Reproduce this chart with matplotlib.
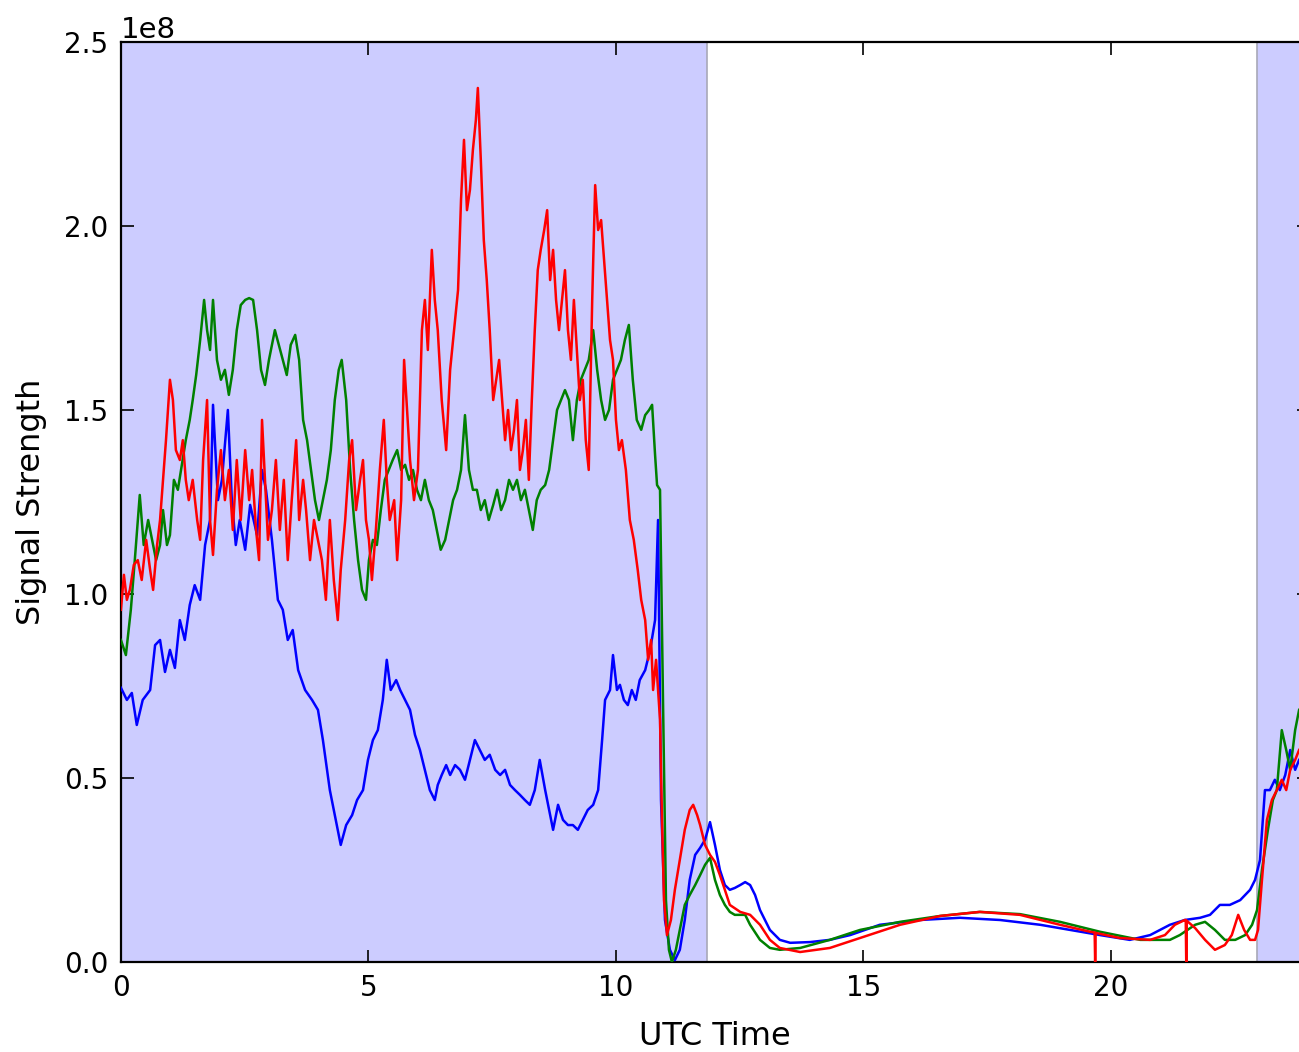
import numpy as np
import matplotlib
matplotlib.use("Agg")
import matplotlib.pyplot as plt

# signal strength traces, values in units of 1e8, time in UTC hours
blue_hours = [0.00, 0.12, 0.22, 0.32, 0.44, 0.59, 0.69, 0.79, 0.89, 0.99, 1.09, 1.19, 1.29, 1.39, 1.49, 1.60,
              1.70, 1.80, 1.86, 1.96, 2.04, 2.16, 2.24, 2.32, 2.40, 2.51, 2.61, 2.75, 2.85, 2.93, 3.05, 3.17,
              3.27, 3.37, 3.47, 3.58, 3.72, 3.86, 3.98, 4.08, 4.22, 4.34, 4.44, 4.55, 4.67, 4.77, 4.89, 4.99,
              5.09, 5.19, 5.29, 5.37, 5.45, 5.56, 5.64, 5.74, 5.84, 5.94, 6.04, 6.14, 6.24, 6.34, 6.40, 6.48,
              6.57, 6.65, 6.75, 6.85, 6.95, 7.05, 7.15, 7.25, 7.35, 7.45, 7.56, 7.66, 7.76, 7.86, 7.96, 8.06,
              8.16, 8.26, 8.36, 8.46, 8.57, 8.65, 8.73, 8.83, 8.93, 9.03, 9.13, 9.23, 9.33, 9.43, 9.54, 9.64,
              9.72, 9.78, 9.88, 9.94, 10.02, 10.08, 10.16, 10.24, 10.32, 10.40, 10.48, 10.59, 10.69, 10.79,
              10.85, 10.91, 10.99, 11.09, 11.19, 11.29, 11.39, 11.49, 11.60, 11.70, 11.80, 11.90, 12.00, 12.10,
              12.20, 12.30, 12.40, 12.51, 12.61, 12.71, 12.81, 12.91, 13.11, 13.31, 13.52, 13.92, 14.32, 14.73,
              15.33, 16.14, 16.95, 17.76, 18.57, 19.17, 19.78, 20.38, 20.79, 21.19, 21.49, 21.80, 22.00, 22.20,
              22.40, 22.61, 22.81, 22.91, 23.01, 23.11, 23.21, 23.31, 23.41, 23.52, 23.62, 23.72, 23.80]
blue_vals = [0.745, 0.712, 0.731, 0.644, 0.712, 0.739, 0.861, 0.875, 0.788, 0.848, 0.799, 0.929, 0.875, 0.970,
             1.024, 0.984, 1.133, 1.201, 1.514, 1.255, 1.310, 1.500, 1.255, 1.133, 1.201, 1.120, 1.242, 1.160,
             1.337, 1.283, 1.147, 0.984, 0.957, 0.875, 0.902, 0.793, 0.739, 0.712, 0.685, 0.603, 0.467, 0.386,
             0.318, 0.372, 0.399, 0.440, 0.467, 0.549, 0.603, 0.630, 0.712, 0.821, 0.739, 0.766, 0.739, 0.712,
             0.685, 0.617, 0.576, 0.522, 0.467, 0.440, 0.481, 0.508, 0.535, 0.508, 0.535, 0.522, 0.495, 0.549,
             0.603, 0.576, 0.549, 0.563, 0.522, 0.508, 0.522, 0.481, 0.467, 0.454, 0.440, 0.427, 0.467, 0.549,
             0.467, 0.413, 0.359, 0.427, 0.386, 0.372, 0.372, 0.359, 0.386, 0.413, 0.427, 0.467, 0.603, 0.712,
             0.739, 0.834, 0.739, 0.753, 0.712, 0.698, 0.739, 0.712, 0.766, 0.793, 0.848, 0.929, 1.201, 0.440,
             0.114, 0.033, 0.005, 0.033, 0.114, 0.223, 0.291, 0.310, 0.332, 0.380, 0.318, 0.250, 0.209, 0.196,
             0.201, 0.209, 0.217, 0.209, 0.182, 0.141, 0.087, 0.060, 0.052, 0.054, 0.060, 0.073, 0.101, 0.114,
             0.120, 0.114, 0.101, 0.087, 0.073, 0.060, 0.073, 0.101, 0.114, 0.120, 0.128, 0.155, 0.155, 0.168,
             0.196, 0.223, 0.277, 0.467, 0.467, 0.495, 0.467, 0.508, 0.576, 0.522, 0.549]

green_hours = [0.00, 0.10, 0.20, 0.28, 0.38, 0.46, 0.55, 0.63, 0.71, 0.79, 0.85, 0.93, 0.99, 1.07, 1.15, 1.23,
               1.31, 1.39, 1.45, 1.52, 1.60, 1.68, 1.74, 1.80, 1.86, 1.94, 2.02, 2.10, 2.18, 2.26, 2.34, 2.42,
               2.51, 2.59, 2.67, 2.75, 2.83, 2.91, 2.99, 3.05, 3.11, 3.19, 3.27, 3.35, 3.43, 3.52, 3.60, 3.68,
               3.76, 3.84, 3.92, 4.00, 4.08, 4.16, 4.24, 4.32, 4.40, 4.46, 4.55, 4.63, 4.71, 4.79, 4.87, 4.95,
               5.01, 5.09, 5.17, 5.25, 5.33, 5.41, 5.49, 5.58, 5.66, 5.74, 5.82, 5.90, 5.98, 6.06, 6.14, 6.22,
               6.30, 6.38, 6.46, 6.55, 6.63, 6.71, 6.79, 6.87, 6.95, 7.03, 7.11, 7.19, 7.27, 7.35, 7.43, 7.52,
               7.60, 7.68, 7.76, 7.84, 7.92, 8.00, 8.08, 8.16, 8.24, 8.32, 8.40, 8.48, 8.57, 8.65, 8.73, 8.81,
               8.89, 8.97, 9.05, 9.13, 9.21, 9.29, 9.37, 9.45, 9.54, 9.62, 9.70, 9.78, 9.86, 9.94, 10.02, 10.10,
               10.18, 10.26, 10.34, 10.42, 10.51, 10.59, 10.67, 10.73, 10.79, 10.83, 10.89, 10.95, 11.01, 11.07,
               11.13, 11.21, 11.29, 11.39, 11.49, 11.60, 11.70, 11.80, 11.90, 12.00, 12.10, 12.20, 12.30, 12.40,
               12.51, 12.61, 12.71, 12.91, 13.11, 13.31, 13.72, 14.32, 14.93, 15.74, 16.55, 17.35, 18.16, 18.97,
               19.78, 20.59, 21.19, 21.39, 21.70, 21.90, 22.10, 22.30, 22.51, 22.71, 22.85, 22.95, 23.05, 23.17,
               23.27, 23.35, 23.45, 23.54, 23.62, 23.72, 23.80]
green_vals = [0.875, 0.834, 0.957, 1.092, 1.269, 1.133, 1.201, 1.147, 1.092, 1.133, 1.228, 1.133, 1.160, 1.310,
              1.283, 1.351, 1.418, 1.473, 1.527, 1.595, 1.690, 1.799, 1.717, 1.663, 1.799, 1.636, 1.582, 1.609,
              1.541, 1.609, 1.717, 1.785, 1.799, 1.804, 1.799, 1.717, 1.609, 1.568, 1.636, 1.677, 1.717, 1.677,
              1.636, 1.595, 1.677, 1.704, 1.636, 1.473, 1.418, 1.337, 1.255, 1.201, 1.255, 1.310, 1.391, 1.527,
              1.609, 1.636, 1.527, 1.337, 1.201, 1.092, 1.011, 0.984, 1.092, 1.147, 1.133, 1.228, 1.310, 1.337,
              1.364, 1.391, 1.337, 1.351, 1.310, 1.337, 1.283, 1.255, 1.310, 1.255, 1.228, 1.174, 1.120, 1.147,
              1.201, 1.255, 1.283, 1.337, 1.486, 1.337, 1.283, 1.283, 1.228, 1.255, 1.201, 1.242, 1.283, 1.228,
              1.255, 1.310, 1.283, 1.310, 1.255, 1.283, 1.228, 1.174, 1.255, 1.283, 1.296, 1.337, 1.418, 1.500,
              1.527, 1.554, 1.527, 1.418, 1.527, 1.582, 1.609, 1.636, 1.717, 1.609, 1.527, 1.473, 1.500, 1.582,
              1.609, 1.636, 1.690, 1.731, 1.582, 1.473, 1.446, 1.486, 1.500, 1.514, 1.378, 1.296, 1.283, 0.712,
              0.168, 0.033, 0.000, 0.033, 0.087, 0.155, 0.182, 0.209, 0.236, 0.264, 0.283, 0.223, 0.182, 0.155,
              0.136, 0.128, 0.128, 0.128, 0.101, 0.060, 0.038, 0.033, 0.038, 0.060, 0.087, 0.109, 0.125, 0.136,
              0.130, 0.109, 0.082, 0.060, 0.060, 0.073, 0.101, 0.109, 0.087, 0.060, 0.060, 0.073, 0.101, 0.141,
              0.250, 0.359, 0.440, 0.467, 0.630, 0.576, 0.522, 0.630, 0.685]

red_hours = [0.00, 0.06, 0.12, 0.18, 0.26, 0.34, 0.42, 0.51, 0.59, 0.65, 0.73, 0.79, 0.85, 0.91, 0.99, 1.05,
             1.11, 1.19, 1.25, 1.31, 1.37, 1.45, 1.54, 1.60, 1.66, 1.74, 1.80, 1.86, 1.94, 2.02, 2.10, 2.18,
             2.26, 2.34, 2.42, 2.51, 2.59, 2.65, 2.73, 2.79, 2.85, 2.91, 2.97, 3.05, 3.13, 3.21, 3.29, 3.37,
             3.45, 3.54, 3.60, 3.68, 3.74, 3.82, 3.90, 3.98, 4.06, 4.14, 4.22, 4.30, 4.38, 4.44, 4.53, 4.61,
             4.67, 4.75, 4.83, 4.89, 4.95, 5.01, 5.07, 5.15, 5.23, 5.31, 5.37, 5.43, 5.52, 5.58, 5.66, 5.72,
             5.78, 5.84, 5.92, 6.00, 6.08, 6.14, 6.20, 6.28, 6.34, 6.40, 6.48, 6.57, 6.65, 6.73, 6.81, 6.87,
             6.93, 6.99, 7.05, 7.11, 7.17, 7.21, 7.27, 7.33, 7.39, 7.45, 7.52, 7.58, 7.64, 7.70, 7.76, 7.82,
             7.88, 7.94, 8.00, 8.06, 8.12, 8.18, 8.24, 8.30, 8.36, 8.42, 8.48, 8.55, 8.61, 8.67, 8.73, 8.79,
             8.85, 8.91, 8.97, 9.03, 9.09, 9.15, 9.21, 9.27, 9.33, 9.39, 9.45, 9.52, 9.58, 9.64, 9.70, 9.76,
             9.82, 9.88, 9.94, 10.00, 10.06, 10.12, 10.20, 10.28, 10.36, 10.44, 10.51, 10.59, 10.65, 10.71,
             10.75, 10.81, 10.89, 10.93, 10.97, 11.03, 11.11, 11.19, 11.29, 11.39, 11.49, 11.56, 11.64, 11.70,
             11.80, 11.90, 12.00, 12.10, 12.20, 12.30, 12.51, 12.71, 12.91, 13.11, 13.31, 13.72, 14.32, 14.93,
             15.74, 16.55, 17.35, 18.16, 18.97, 19.58, 19.67, 19.68, 19.69, 20.18, 20.79, 21.09, 21.29, 21.49,
             21.51, 21.52, 21.53, 21.70, 21.90, 22.10, 22.30, 22.44, 22.57, 22.69, 22.81, 22.91, 22.97, 23.05,
             23.15, 23.25, 23.35, 23.45, 23.54, 23.62, 23.72, 23.80]
red_vals = [0.957, 1.052, 0.984, 1.011, 1.079, 1.092, 1.038, 1.147, 1.065, 1.011, 1.133, 1.201, 1.310, 1.418,
            1.582, 1.527, 1.391, 1.364, 1.418, 1.310, 1.255, 1.310, 1.201, 1.147, 1.364, 1.527, 1.201, 1.106,
            1.283, 1.391, 1.255, 1.337, 1.174, 1.364, 1.201, 1.391, 1.255, 1.337, 1.174, 1.092, 1.473, 1.310,
            1.147, 1.228, 1.364, 1.174, 1.310, 1.092, 1.255, 1.418, 1.201, 1.310, 1.228, 1.092, 1.201, 1.147,
            1.092, 0.984, 1.201, 1.038, 0.929, 1.065, 1.201, 1.364, 1.418, 1.228, 1.310, 1.364, 1.201, 1.147,
            1.038, 1.174, 1.337, 1.473, 1.310, 1.201, 1.255, 1.092, 1.255, 1.636, 1.500, 1.364, 1.255, 1.337,
            1.717, 1.799, 1.663, 1.935, 1.799, 1.717, 1.527, 1.391, 1.609, 1.717, 1.826, 2.071, 2.234, 2.043,
            2.098, 2.207, 2.288, 2.375, 2.179, 1.962, 1.853, 1.717, 1.527, 1.582, 1.636, 1.527, 1.418, 1.500,
            1.391, 1.446, 1.527, 1.337, 1.391, 1.473, 1.310, 1.527, 1.717, 1.880, 1.935, 1.989, 2.043, 1.853,
            1.935, 1.799, 1.717, 1.799, 1.880, 1.717, 1.636, 1.799, 1.663, 1.527, 1.582, 1.418, 1.337, 1.799,
            2.111, 1.989, 2.016, 1.908, 1.799, 1.690, 1.636, 1.473, 1.391, 1.418, 1.337, 1.201, 1.147, 1.065,
            0.984, 0.929, 0.821, 0.875, 0.739, 0.821, 0.658, 0.386, 0.168, 0.073, 0.114, 0.196, 0.277, 0.359,
            0.413, 0.427, 0.399, 0.372, 0.318, 0.291, 0.272, 0.236, 0.196, 0.155, 0.136, 0.128, 0.101, 0.060,
            0.038, 0.027, 0.038, 0.065, 0.101, 0.125, 0.136, 0.128, 0.101, 0.082, 0.080, 0.000, 0.079, 0.065,
            0.060, 0.073, 0.101, 0.114, 0.114, 0.000, 0.112, 0.092, 0.060, 0.033, 0.046, 0.073, 0.128, 0.087,
            0.060, 0.060, 0.087, 0.223, 0.386, 0.440, 0.467, 0.495, 0.467, 0.522, 0.549, 0.576]

# night-time shading (UTC hours)
shade_spans = [(0.0, 11.84), (22.95, 24.5)]

plt.rcParams["font.family"] = "DejaVu Sans"
plt.rcParams["font.size"] = 20

fig = plt.figure(figsize=(12.99, 10.52), dpi=100)
ax = fig.add_axes([0.0931, 0.0856, 0.9146, 0.8745])

for start, end in shade_spans:
    ax.axvspan(start, end, facecolor="#ccccff", edgecolor="#a8a8b8", linewidth=1.2, zorder=1)

ax.plot(blue_hours, np.array(blue_vals) * 1e8, color="b", lw=1.8, zorder=3)
ax.plot(green_hours, np.array(green_vals) * 1e8, color="g", lw=1.8, zorder=3)
ax.plot(red_hours, np.array(red_vals) * 1e8, color="r", lw=1.8, zorder=3)

ax.set_xlim(0, 24)
ax.set_ylim(0, 2.5e8)
ax.set_xticks([0, 5, 10, 15, 20])
ax.set_yticks(np.arange(0, 2.51e8, 0.5e8))
ax.tick_params(direction="in", top=True, right=True, length=9, width=1.2, pad=9, labelsize=20)
ax.yaxis.get_offset_text().set_fontsize(21)
for s in ax.spines.values():
    s.set_linewidth(1.6)
ax.set_xlabel("UTC Time", fontsize=23, labelpad=13)
ax.set_ylabel("Signal Strength", fontsize=23, labelpad=12)

plt.savefig("out.png", dpi=100)
